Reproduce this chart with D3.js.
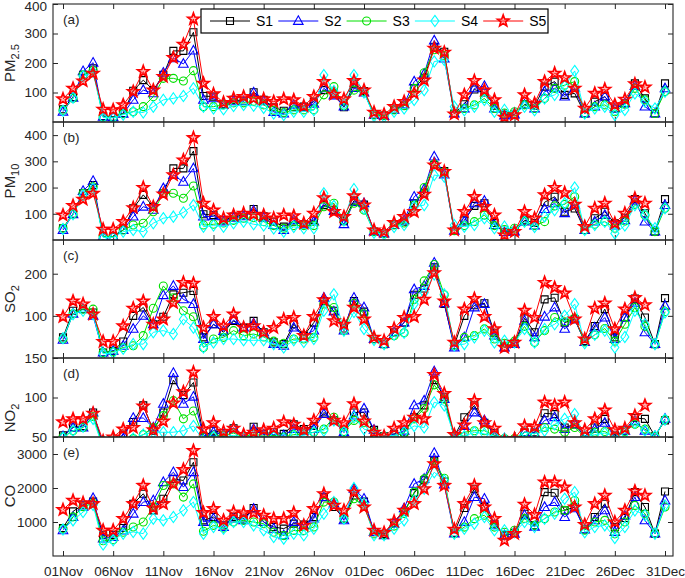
<!DOCTYPE html>
<html><head><meta charset="utf-8">
<script src="https://cdn.jsdelivr.net/npm/d3@7"></script>
<style>body{margin:0;background:#fff}svg{display:block}</style>
</head><body><svg id="chart" width="685" height="578"></svg>
<script>
// ---------- data ----------
const seriesNames = ["S1","S2","S3","S4","S5"];
const days = d3.range(61); // 01Nov .. 31Dec
const xTickDays = [0,5,10,15,20,25,30,35,40,45,50,55,60];
const xTickLabels = ["01Nov","06Nov","11Nov","16Nov","21Nov","26Nov","01Dec","06Dec","11Dec","16Dec","21Dec","26Dec","31Dec"];

const pm25_S1 = [43,85,160,182,20,18,30,106,142,108, 160,241,241,304,88,86,60,75,72,101, 75,50,38,50,52,69,108,97,50,130, 105,24,22,41,55,115,150,255,238,29, 60,110,100,55,25,25,60,55,120,137, 92,97,29,69,86,46,63,131,80,29,131];
const pm25_S2 = [35,82,172,201,18,16,28,75,108,97, 167,216,197,242,75,80,58,70,70,100, 70,34,29,58,50,62,114,90,52,115, 100,24,20,41,60,137,163,276,215,29, 46,114,122,46,22,25,58,46,103,114, 86,115,29,52,86,46,63,122,52,29,114];
const pm25_S3 = [40,80,160,175,17,16,28,35,52,86, 148,148,139,174,52,52,58,65,65,70, 58,40,32,41,41,41,92,120,55,108, 103,24,22,41,55,114,167,245,225,29, 46,58,80,46,30,35,58,46,80,114, 125,137,29,52,58,35,60,114,75,29,103];
const pm25_S4 = [38,82,155,170,15,14,25,35,32,52, 75,80,88,114,52,46,43,54,58,55, 48,29,24,35,35,40,159,105,60,159, 100,20,18,35,46,75,108,205,210,52, 40,52,75,35,41,30,52,40,80,92, 122,173,29,46,52,24,41,97,69,46,103];
const pm25_S5 = [78,114,139,165,43,41,58,103,171,108, 154,218,263,349,131,95,66,80,86,80, 78,69,78,75,54,86,137,94,78,140, 108,33,26,52,69,97,142,250,236,27, 92,140,108,75,16,24,92,63,137,165, 150,114,46,97,111,58,77,129,118,null,null];

const pm10_S1 = [45,100,178,210,13,13,38,121,172,127, 178,273,273,339,98,95,75,89,95,118, 90,70,51,70,60,76,133,115,72,150, 135,32,25,57,70,140,180,286,263,35, 75,130,140,65,30,32,75,65,144,165, 108,120,38,83,108,64,85,156,102,32,156];
const pm10_S2 = [38,98,187,225,13,13,38,89,127,115, 197,248,222,273,89,90,70,85,90,112, 85,57,38,76,60,70,140,110,60,145, 140,32,25,57,75,165,194,318,250,35, 70,140,149,57,30,32,70,55,118,140, 102,135,38,70,95,55,75,150,70,32,133];
const pm10_S3 = [45,98,178,203,13,13,38,57,64,108, 178,178,159,206,57,60,65,75,83,85, 70,55,45,55,55,55,127,140,75,140, 114,32,25,57,65,133,200,290,260,35, 55,70,95,55,40,45,70,55,70,130, 136,165,38,60,70,45,72,136,95,32,121];
const pm10_S4 = [42,98,170,195,10,10,32,38,32,64, 83,89,105,133,51,55,51,64,70,60, 55,44,32,50,45,45,178,130,75,194, 120,28,22,50,57,127,133,248,241,57, 51,57,83,45,51,38,70,50,90,114, 140,200,38,57,70,25,55,133,95,45,121];
const pm10_S5 = [95,131,155,178,41,41,70,123,200,127, 175,248,305,390,140,114,83,95,102,98, 95,83,95,92,64,102,161,108,89,168, 133,38,32,66,89,108,174,286,261,38, 108,165,127,95,19,32,108,83,172,200, 180,136,51,121,140,64,102,159,140,null,null];

const so2_S1 = [49,112,116,108,13,17,39,100,120,80, 98,151,155,159,49,80,61,88,72,88, 61,37,33,80,53,84,135,112,70,135, 110,45,33,61,84,150,165,215,128,30, 100,125,130,60,25,35,94,61,139,143, 84,92,40,76,116,49,96,141,96,33,142];
const so2_S2 = [43,105,116,100,13,17,29,69,100,80, 149,171,139,128,45,80,64,90,72,82, 61,33,29,72,53,65,143,110,65,143, 120,45,33,61,84,163,171,226,130,25, 49,120,128,53,25,33,88,49,98,120, 69,92,38,72,96,45,96,131,61,33,124];
const so2_S3 = [45,105,116,116,13,15,25,29,53,118, 171,143,112,98,25,45,49,65,53,57, 50,40,35,45,45,49,128,120,65,130, 105,45,33,53,60,139,183,222,150,30, 49,53,69,45,35,40,75,37,65,96, 86,95,38,55,70,40,80,120,75,33,110];
const so2_S4 = [47,104,112,104,10,12,22,33,33,61, 65,57,92,72,25,37,45,45,42,42, 42,33,25,42,38,45,112,151,65,109, 69,43,33,55,60,128,155,198,151,30, 33,49,65,37,41,37,69,37,69,80, 100,128,35,55,65,25,50,112,80,33,108];
const so2_S5 = [98,135,128,104,39,39,76,118,135,80, 92,131,179,177,72,98,76,104,72,76, 61,72,92,96,53,98,138,88,80,120, 92,49,41,70,96,98,139,202,135,37, 116,141,98,69,25,37,113,96,179,167, 154,92,45,118,130,69,116,143,126,null,null];

const no2_S1 = [52,62,64,81,40,42,53,69,90,58, 81,122,103,119,51,58,55,61,51,63, 54,56,54,66,60,64,81,71,56,81, 81,59,51,54,56,75,90,122,101,51, 75,90,68,55,45,46,56,56,80,79, 62,66,51,62,73,52,58,74,73,51,71];
const no2_S2 = [51,62,62,81,40,42,48,74,74,62, 92,131,92,101,51,56,53,61,51,60, 53,53,52,60,58,60,79,71,56,77, 86,59,51,53,58,90,96,133,98,50, 64,81,71,52,48,46,56,55,71,75, 60,66,51,60,68,50,58,70,58,51,73];
const no2_S3 = [50,58,62,76,38,40,45,48,53,62, 77,96,73,83,50,51,52,55,50,54, 51,52,50,53,54,56,60,75,57,71, 68,57,51,52,55,73,86,116,98,50, 56,58,58,52,48,48,56,54,62,60, 56,62,50,56,57,50,57,66,60,51,72];
const no2_S4 = [49,58,63,73,36,38,42,48,53,56, 56,56,58,64,45,50,50,52,49,52, 50,50,48,51,52,56,58,71,56,75, 60,56,51,52,56,64,62,94,90,51, 51,56,54,51,48,47,56,54,58,66, 73,79,51,53,55,50,55,68,58,51,72];
const no2_S5 = [69,73,73,80,45,50,60,62,89,59, 70,93,107,132,60,68,57,61,53,56, 59,61,69,66,59,71,90,71,68,92, 70,56,51,61,68,75,73,129,105,53, 65,96,68,61,45,48,64,63,94,90, 94,68,59,73,84,59,61,77,90,null,null];

const co_S1 = [824,1312,1507,1600,610,620,824,1537,1830,1342, 1683,2269,2220,2757,1049,1146,902,1150,1100,1410, 1000,854,805,951,922,1146,1732,1439,1100,1780, 1600,700,650,980,1300,1850,2230,2800,2191,680, 1410,1976,1439,950,600,680,1244,900,1878,1859, 1342,1439,780,1146,1537,854,1117,1878,1439,658,1898];
const co_S2 = [756,1146,1450,1703,512,560,750,1244,1586,1634, 2171,2464,2025,2464,1000,1100,850,1100,1050,1390, 1000,800,610,1000,900,1100,1732,1540,1049,1976, 1683,707,610,950,1400,2122,2269,3030,2100,658, 1000,1732,1683,900,610,650,1200,860,1439,1586, 1146,1400,780,1050,1342,707,1180,1732,1049,658,1634];
const co_S3 = [800,1150,1450,1550,450,480,700,854,1000,1439, 2074,2122,1732,2122,727,902,820,1000,1049,1000, 950,700,600,750,750,854,1586,1586,1100,1683, 1488,650,620,880,1250,1878,2269,2757,2288,660, 850,1098,1200,850,700,756,1100,900,1098,1293, 1342,1634,760,1000,1049,650,1000,1488,1244,658,1440];
const co_S4 = [780,1049,1293,1500,336,463,658,707,658,1098, 1049,1146,1342,1586,658,854,805,1000,1000,902, 756,561,512,658,610,800,1244,1586,1098,1995, 1537,610,610,805,1049,1634,1976,2464,2220,658, 800,951,1146,756,756,700,1000,854,1098,1244, 1683,1878,700,854,902,532,854,1342,1200,658,1488];
const co_S5 = [1361,1634,1566,1537,756,756,1098,1537,2074,1410, 1537,2122,2542,3098,1273,1390,1049,1293,1263,1273, 1195,1098,1098,1273,902,1390,1830,1488,1342,1878, 1439,756,688,1020,1342,1537,1976,2708,2074,785, 1537,2074,1439,1098,463,658,1517,1215,2171,2171, 2025,1439,922,1537,1781,1000,1342,1908,1781,null,null];

// ---------- layout / style ----------
const colors = ["#000000","#0000ff","#00e000","#00ffff","#ff0000"];
const symbols = ["square","triangle","circle","diamond","star"];
const axisColor = "#262626";
const font = "'Liberation Sans', Arial, Helvetica, sans-serif";
const L = 53, R = 673;

const panels = [
  {tag:"(a)", title:["PM","2.5"], domain:[0,400], ticks:[100,200,300,400], top:4,   bottom:122, series:[pm25_S1,pm25_S2,pm25_S3,pm25_S4,pm25_S5], titleY:63},
  {tag:"(b)", title:["PM","10"],  domain:[0,450], ticks:[100,200,300,400], top:122, bottom:240, series:[pm10_S1,pm10_S2,pm10_S3,pm10_S4,pm10_S5], titleY:181},
  {tag:"(c)", title:["SO","2"],   domain:[0,280], ticks:[100,200],         top:240, bottom:358, series:[so2_S1,so2_S2,so2_S3,so2_S4,so2_S5], titleY:299},
  {tag:"(d)", title:["NO","2"],   domain:[50,150],ticks:[50,100,150],      top:358, bottom:437, series:[no2_S1,no2_S2,no2_S3,no2_S4,no2_S5], titleY:418},
  {tag:"(e)", title:["CO",""],    domain:[0,3500],ticks:[1000,2000,3000],  top:437, bottom:556, series:[co_S1,co_S2,co_S3,co_S4,co_S5], titleY:496}
];

const svg = d3.select("#chart");
svg.append("rect").attr("width",685).attr("height",578).attr("fill","#fff");

const x = d3.scaleLinear().domain([0,60]).range([63,665]);

function markerPath(kind){
  switch(kind){
    case "square": return "M-3.5,-3.5h7v7h-7Z";
    case "triangle": return "M0,-5.2L4.8,3.4L-4.8,3.4Z";
    case "circle": return "M4,0A4,4 0 1,1 -4,0A4,4 0 1,1 4,0Z";
    case "diamond": return "M0,-5.6L4,0L0,5.6L-4,0Z";
    case "star": {
      const pts=[]; const Ro=6.0, Ri=2.5;
      for(let i=0;i<10;i++){const a=-Math.PI/2+i*Math.PI/5; const r=i%2?Ri:Ro; pts.push([r*Math.cos(a), r*Math.sin(a)]);}
      return "M"+pts.map(p=>p[0].toFixed(2)+","+p[1].toFixed(2)).join("L")+"Z";
    }
  }
}
const markerStroke = [1.1,1.1,1.1,1.1,1.7];
const markerFill = ["none","none","none","none","rgba(255,60,60,0.35)"];

panels.forEach((p,pi)=>{
  const y = d3.scaleLinear().domain(p.domain).range([p.bottom,p.top]);
  const g = svg.append("g");
  const clipId = "clip"+pi;
  svg.append("clipPath").attr("id",clipId).append("rect")
     .attr("x",L).attr("y",p.top).attr("width",R-L).attr("height",p.bottom-p.top);

  // axes (inward ticks)
  const yl = g.append("g").attr("transform",`translate(${L},0)`)
    .call(d3.axisLeft(y).tickValues(p.ticks).tickSize(-5).tickPadding(6).tickFormat(d3.format("d")));
  const yr = g.append("g").attr("transform",`translate(${R},0)`)
    .call(d3.axisRight(y).tickValues(p.ticks).tickSize(-5).tickFormat(""));
  const xb = g.append("g").attr("transform",`translate(0,${p.bottom})`)
    .call(d3.axisBottom(x).tickValues(xTickDays).tickSize(-5).tickPadding(10)
      .tickFormat((d,i)=> pi===panels.length-1 ? xTickLabels[i] : ""));
  const xt = g.append("g").attr("transform",`translate(0,${p.top})`)
    .call(d3.axisTop(x).tickValues(xTickDays).tickSize(-5).tickFormat(""));
  [yl,yr,xb,xt].forEach(a=>{
    a.select(".domain").remove();
    a.selectAll("line").attr("stroke",axisColor);
    a.selectAll("text").attr("fill",axisColor).style("font-family",font).style("font-size","13.5px");
  });
  // keep top label of first panel inside the picture
  yl.selectAll(".tick").filter(d=>y(d)<8).select("text").attr("dy","0.45em");

  // series
  const plot = g.append("g").attr("clip-path",`url(#${clipId})`);
  p.series.forEach((vals,si)=>{
    const line = d3.line().defined(v=>v!=null).x((v,i)=>x(days[i])).y(v=>y(v));
    plot.append("path").datum(vals).attr("d",line).attr("fill","none")
      .attr("stroke",colors[si]).attr("stroke-width",1);
    plot.append("g").selectAll("path")
      .data(days.filter(i=>vals[i]!=null))
      .join("path")
      .attr("transform",i=>`translate(${x(i)},${y(vals[i])})`)
      .attr("d",markerPath(symbols[si]))
      .attr("fill",markerFill[si]).attr("stroke",colors[si]).attr("stroke-width",markerStroke[si]);
  });

  // box
  g.append("rect").attr("x",L).attr("y",p.top).attr("width",R-L).attr("height",p.bottom-p.top)
    .attr("fill","none").attr("stroke",axisColor).attr("stroke-width",1.1);

  // panel tag
  g.append("text").attr("x",63).attr("y",p.top+20).text(p.tag)
    .attr("fill",axisColor).style("font-family",font).style("font-size","13.5px");

  // y title
  const t = g.append("text").attr("transform",`translate(15,${p.titleY}) rotate(-90)`)
    .attr("text-anchor","middle").attr("fill",axisColor)
    .style("font-family",font).style("font-size","15px");
  t.append("tspan").text(p.title[0]);
  if(p.title[1]) t.append("tspan").attr("dy",4).style("font-size","11px").text(p.title[1]);
});

// legend
const lg = svg.append("g");
lg.append("rect").attr("x",201).attr("y",9).attr("width",347).attr("height",24)
  .attr("fill","#fff").attr("stroke","#000").attr("stroke-width",1.2);
seriesNames.forEach((name,i)=>{
  const cx = 230 + i*68.3;
  lg.append("line").attr("x1",cx-20).attr("x2",cx+20).attr("y1",21).attr("y2",21)
    .attr("stroke",colors[i]).attr("stroke-width",1);
  lg.append("path").attr("transform",`translate(${cx},21)`).attr("d",markerPath(symbols[i]))
    .attr("fill",markerFill[i]).attr("stroke",colors[i]).attr("stroke-width",markerStroke[i]);
  lg.append("text").attr("x",cx+26).attr("y",26).text(name).attr("fill","#000")
    .style("font-family",font).style("font-size","14px");
});
</script>
</body></html>
